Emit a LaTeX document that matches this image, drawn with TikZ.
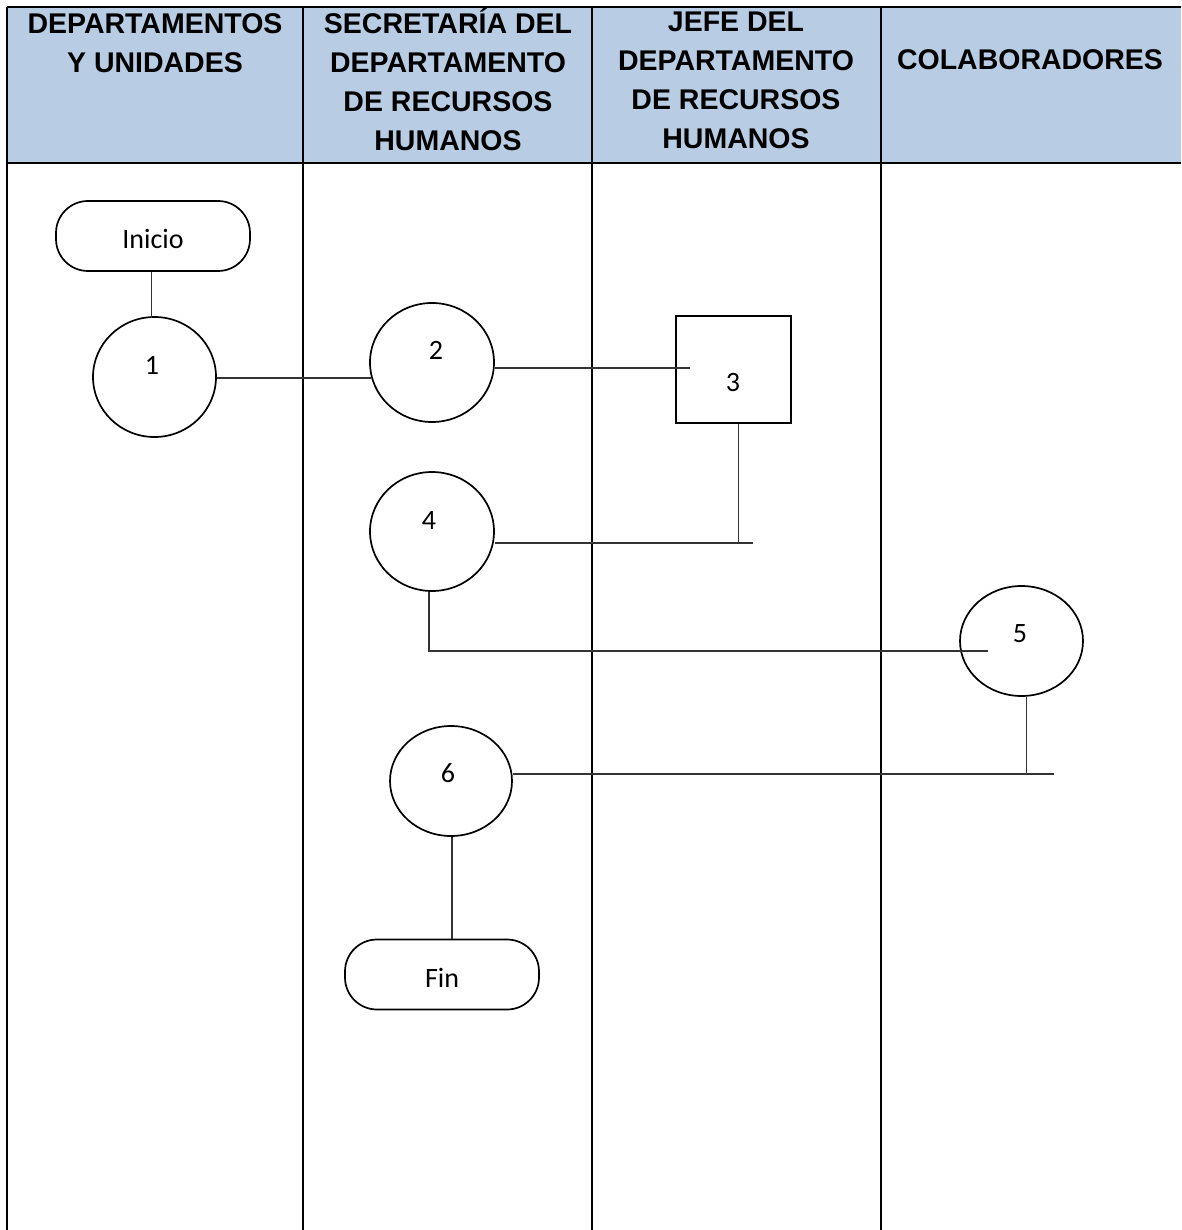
\documentclass[tikz,border=0pt]{standalone}
\usepackage{fontspec}
\setmainfont{Carlito}
\newfontfamily\hdrfont{Liberation Sans}
\usetikzlibrary{calc,shapes.geometric}

\definecolor{hdrblue}{HTML}{B8CCE4}
\definecolor{linkgray}{HTML}{333333}

\begin{document}
\begin{tikzpicture}[x=1pt,y=-1pt,
  lane/.style={line width=2.4pt},
  hdr/.style={font=\hdrfont\bfseries\fontsize{28.5}{39}\selectfont, align=center, inner sep=0pt, anchor=base},
  circ/.style={draw, line width=1.7pt, ellipse, inner sep=0pt},
  procbox/.style={draw, line width=1.7pt, rectangle, inner sep=0pt},
  term/.style={draw, line width=1.7pt, rectangle, rounded corners=32pt, inner sep=0pt,
               minimum width=194pt, minimum height=70pt},
  lbl/.style={font=\fontsize{28}{32}\selectfont, inner sep=0pt, anchor=base},
  link/.style={draw=linkgray, line width=1.3pt}
]
\useasboundingbox (0,0) rectangle (1181,1230);

% header band
\fill[hdrblue] (7,7) rectangle (1181,163);

% lane borders
\draw[lane] (7,7) -- (1181,7);
\draw[lane] (7,163) -- (1181,163);
\draw[lane] (7,7) -- (7,1230);
\draw[lane] (303,7) -- (303,1230);
\draw[lane] (592,7) -- (592,1230);
\draw[lane] (881,7) -- (881,1230);

% lane titles (anchored at the baseline of the last line)
\node[hdr] (h1) at (155,73) {DEPARTAMENTOS\\Y UNIDADES};
\node[hdr] (h2) at (448,151) {SECRETARÍA DEL\\DEPARTAMENTO\\DE RECURSOS\\HUMANOS};
\node[hdr] (h3) at (736,149) {JEFE DEL\\DEPARTAMENTO\\DE RECURSOS\\HUMANOS};
\node[hdr] (h4) at (1030,70) {COLABORADORES};

% flow shapes
\node[term] (inicio) at (153,236) {};
\node[circ, minimum width=123pt, minimum height=120pt] (n1) at (154.5,377) {};
\node[circ, minimum width=124pt, minimum height=119pt] (n2) at (432,362.5) {};
\node[procbox, minimum width=115pt, minimum height=107pt] (n3) at (733.5,369.5) {};
\node[circ, minimum width=124pt, minimum height=119pt] (n4) at (432,531.5) {};
\node[circ, minimum width=123pt, minimum height=110pt] (n5) at (1021.5,641) {};
\node[circ, minimum width=122pt, minimum height=110pt] (n6) at (451,781) {};
\node[term] (fin) at (442,974.5) {};

% labels
\node[lbl] (tinicio) at (153,249) {Inicio};
\node[lbl] (t1) at (152,374) {1};
\node[lbl] (t2) at (436,359) {2};
\node[lbl] (t3) at (733,391) {3};
\node[lbl] (t4) at (429,529) {4};
\node[lbl] (t5) at (1020,642) {5};
\node[lbl] (t6) at (448,782) {6};
\node[lbl] (tfin) at (442,987) {Fin};

% junction points
\coordinate (j3) at ($(n3.south)+(5,119)$);
\coordinate (e3) at ($(j3)+(14,0)$);
\coordinate (j4) at ($(n4.south)+(-3,59)$);
\coordinate (e5) at ($(n5.west)+(29,0)$);
\coordinate (j5) at ($(n5.south)+(5,77)$);
\coordinate (e6) at ($(j5)+(27,0)$);
\coordinate (e2) at ($(n3.west)+(15,-1.5)$);
\coordinate (s6) at ($(n6.south)+(1,0)$);

% connectors
\draw[link] (inicio.south -| n1.north) ++(-3,0) -- ++(0,46);
\draw[link] (n1.east) ++(0,1) -- (371,378);
\draw[link] (n2.east |- e2) -- (e2);
\draw[link] ($(n3.south)+(5,0)$) -- (j3);
\draw[link] (n4.east |- j3) -- (e3);
\draw[link] ($(n4.south)+(-3,0)$) -- (j4) -- (j4 -| e5);
\draw[link] ($(n5.south)+(5,0)$) -- (j5);
\draw[link] (n6.east |- j5) -- (e6);
\draw[link] (s6) -- (s6 |- fin.north);
\end{tikzpicture}
\end{document}
